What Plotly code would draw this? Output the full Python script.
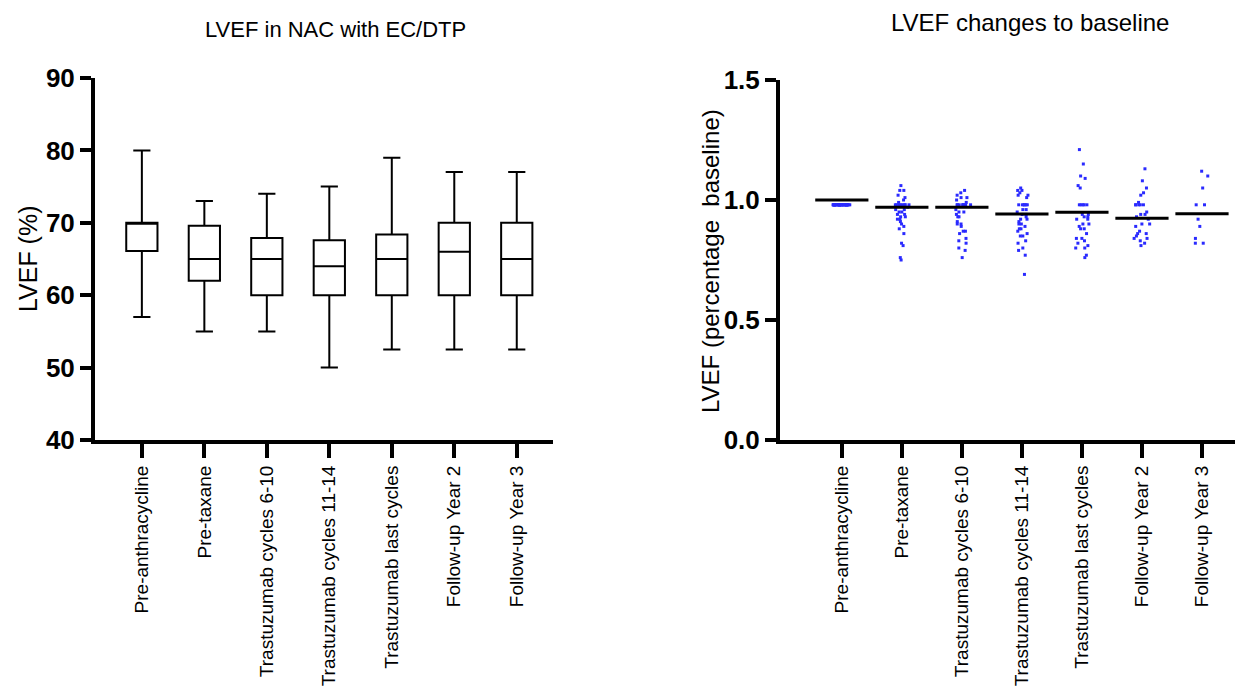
import plotly.graph_objects as go
from plotly.subplots import make_subplots

categories = ["Pre-anthracycline", "Pre-taxane", "Trastuzumab cycles 6-10",
              "Trastuzumab cycles 11-14", "Trastuzumab last cycles",
              "Follow-up Year 2", "Follow-up Year 3"]

# Left panel: box plot summary (LVEF %)
lvef_min = [57, 55, 55, 50, 52.5, 52.5, 52.5]
lvef_q1 = [66.1, 62, 60, 60, 60, 60, 60]
lvef_median = [70, 65, 65, 64, 65, 66, 65]
lvef_q3 = [70, 69.6, 67.9, 67.6, 68.4, 70, 70]
lvef_max = [80, 73, 74, 75, 79, 77, 77]

# Right panel: individual ratios to baseline
ratio_pre_anthracycline = [0.98] * 34
ratio_pre_taxane = [1.06, 1.04, 1.04, 1.02, 1.01, 1.0, 0.99, 0.98, 0.98, 0.98, 0.98,
                    0.98, 0.98, 0.98, 0.98, 0.97, 0.96, 0.96, 0.95, 0.95, 0.94, 0.94,
                    0.93, 0.93, 0.92, 0.92, 0.91, 0.90, 0.89, 0.88, 0.86, 0.82, 0.81,
                    0.76, 0.75]
ratio_tras_6_10 = [1.04, 1.03, 1.02, 1.01, 1.01, 1.0, 0.99, 0.98, 0.98, 0.98, 0.98,
                   0.98, 0.98, 0.98, 0.98, 0.96, 0.95, 0.95, 0.94, 0.93, 0.93, 0.91,
                   0.90, 0.90, 0.89, 0.87, 0.87, 0.86, 0.84, 0.83, 0.82, 0.80, 0.79,
                   0.76]
ratio_tras_11_14 = [1.05, 1.04, 1.04, 1.03, 1.02, 1.02, 1.01, 0.98, 0.98, 0.98, 0.98,
                    0.98, 0.98, 0.96, 0.96, 0.95, 0.94, 0.94, 0.93, 0.92, 0.92, 0.91,
                    0.90, 0.90, 0.89, 0.88, 0.88, 0.87, 0.86, 0.85, 0.85, 0.83, 0.82,
                    0.80, 0.79, 0.77, 0.69]
ratio_tras_last = [1.21, 1.15, 1.10, 1.09, 1.06, 1.05, 0.98, 0.98, 0.98, 0.98, 0.98,
                   0.94, 0.94, 0.93, 0.93, 0.92, 0.92, 0.90, 0.90, 0.89, 0.88, 0.88,
                   0.86, 0.84, 0.84, 0.83, 0.82, 0.81, 0.80, 0.80, 0.77, 0.76]
ratio_fu_year2 = [1.13, 1.08, 1.05, 1.03, 1.02, 0.99, 0.98, 0.98, 0.98, 0.98, 0.98,
                  0.95, 0.94, 0.94, 0.93, 0.92, 0.90, 0.90, 0.89, 0.87, 0.86, 0.86,
                  0.85, 0.84, 0.84, 0.83, 0.82, 0.81]
ratio_fu_year3 = [1.12, 1.10, 1.05, 0.98, 0.98, 0.92, 0.89, 0.84, 0.82, 0.82]
ratio_means = [1.0, 0.97, 0.97, 0.942, 0.949, 0.924, 0.943]

ratio_groups = [ratio_pre_anthracycline, ratio_pre_taxane, ratio_tras_6_10,
                ratio_tras_11_14, ratio_tras_last, ratio_fu_year2, ratio_fu_year3]

FONT = "Arial, Liberation Sans, sans-serif"

fig = make_subplots(rows=1, cols=2)

fig.add_trace(go.Box(
    x=categories, q1=lvef_q1, median=lvef_median, q3=lvef_q3,
    lowerfence=lvef_min, upperfence=lvef_max,
    boxpoints=False, fillcolor="white",
    line=dict(color="black", width=2), whiskerwidth=0.55,
    showlegend=False, hoverinfo="skip"), row=1, col=1)

xs, ys = [], []
for cat, vals in zip(categories, ratio_groups):
    xs += [cat] * len(vals)
    ys += vals

fig.add_trace(go.Box(
    x=xs, y=ys, boxpoints="all", jitter=0.6, pointpos=0,
    fillcolor="rgba(0,0,0,0)", line=dict(color="rgba(0,0,0,0)", width=0),
    marker=dict(color="#2a2aff", size=3, symbol="square"),
    showlegend=False, hoverinfo="y"), row=1, col=2)

fig.add_trace(go.Scatter(
    x=categories, y=ratio_means, mode="markers",
    marker=dict(symbol="line-ew", size=38, color="black",
                line=dict(color="black", width=3)),
    showlegend=False, hoverinfo="y"), row=1, col=2)

W, H = 1235, 687
axis_common = dict(showline=True, linecolor="black", linewidth=4, showgrid=False,
                   zeroline=False, ticks="outside", tickcolor="black", tickwidth=4,
                   automargin=False)
xtick_font = dict(size=19, family=FONT, color="black")
ytick_font = dict(size=26, family=FONT, color="black", weight="bold")

fig.update_layout(
    width=W, height=H, margin=dict(l=0, r=0, t=0, b=0, pad=0), autosize=False,
    paper_bgcolor="white", plot_bgcolor="white", boxgap=0.5, boxgroupgap=0,
    font=dict(family=FONT, color="black"),
    xaxis=dict(domain=[95 / W, 553 / W], type="category", categoryarray=categories,
               range=[-0.75, 6.58], ticklen=14, tickangle=-90,
               tickfont=xtick_font, **axis_common),
    yaxis=dict(domain=[1 - 440 / H, 1 - 78 / H], range=[40, 90],
               tickvals=[40, 50, 60, 70, 80, 90],
               ticklen=11, tickfont=ytick_font, **axis_common),
    xaxis2=dict(domain=[780 / W, 1.0], type="category", categoryarray=categories,
                range=[-1.03, 6.55], ticklen=14, tickangle=-90,
                tickfont=xtick_font, **axis_common),
    yaxis2=dict(domain=[1 - 440 / H, 1 - 80 / H], range=[0, 1.5],
                tickvals=[0, 0.5, 1.0, 1.5], ticktext=["0.0", "0.5", "1.0", "1.5"],
                ticklen=11, tickfont=ytick_font, **axis_common),
)

annotations = [
    dict(text="LVEF in NAC with EC/DTP", x=335 / W, y=1 - 30 / H, font=dict(size=22)),
    dict(text="LVEF changes to baseline", x=1030 / W, y=1 - 22 / H, font=dict(size=24)),
    dict(text="LVEF (%)", x=28 / W, y=1 - 259 / H, textangle=-90, font=dict(size=25)),
    dict(text="LVEF (percentage\u00a0 baseline)", x=710 / W, y=1 - 261 / H, textangle=-90,
         font=dict(size=24)),
]
for a in annotations:
    a.update(xref="paper", yref="paper", showarrow=False, xanchor="center", yanchor="middle")
    a["font"]["family"] = FONT
    a["font"]["color"] = "black"
fig.update_layout(annotations=annotations)

fig.write_html("out.html", config={"displayModeBar": False},
               post_script="document.body.style.margin='0';document.body.style.overflow='hidden';")
